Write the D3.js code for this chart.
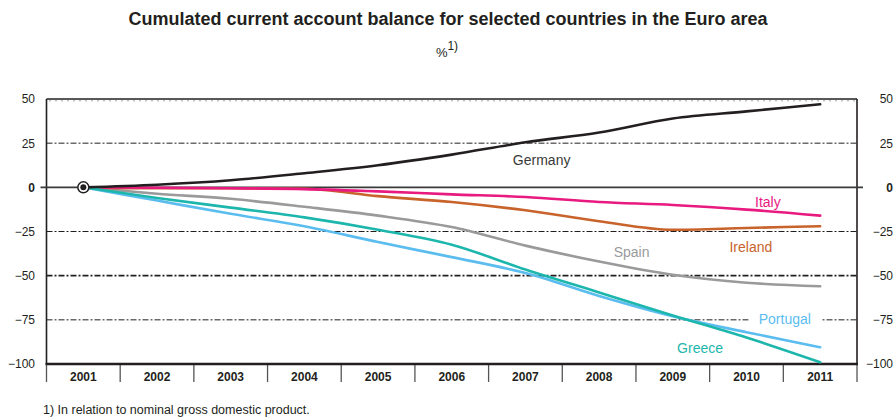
<!DOCTYPE html>
<html>
<head>
<meta charset="utf-8">
<script src="https://cdn.jsdelivr.net/npm/d3@7"></script>
<style>
  body { margin: 0; background: #fff; }
  svg { font-family: "Liberation Sans", Arial, sans-serif; }
</style>
</head>
<body>
<svg id="chart" width="894" height="417"></svg>
<script>
// values
var years = [2001, 2002, 2003, 2004, 2005, 2006, 2007, 2008, 2009, 2010, 2011];
var germany  = [0, 1.5, 4, 8, 12.5, 18.5, 25.5, 31, 39, 43, 47];
var italy    = [0, -0.2, -0.5, -1, -2.3, -4, -5.5, -8.3, -10, -12.6, -16];
var ireland  = [0, -0.5, -0.5, -0.8, -5, -8.3, -13, -19.2, -24, -23, -22];
var spain    = [0, -3.6, -6.5, -11, -16, -22.5, -33, -42, -49.5, -54, -56];
var greece   = [0, -6, -11.5, -17, -24, -32.5, -46.5, -59.5, -72.5, -85, -99];
var portugal = [0, -7.5, -15, -22, -31, -39.5, -48.5, -61.5, -73, -82, -90.5];
var yTicks = [50, 25, 0, -25, -50, -75, -100];

var series = [
  {name: "Spain",    values: spain,    color: "#9a9a9c"},
  {name: "Ireland",  values: ireland,  color: "#c8632c"},
  {name: "Italy",    values: italy,    color: "#e8197f"},
  {name: "Portugal", values: portugal, color: "#5bbdef"},
  {name: "Greece",   values: greece,   color: "#1db6ad"},
  {name: "Germany",  values: germany,  color: "#231f20"}
];
// label anchors, in data units (year, value)
var labels = [
  {name: "Germany",  at: [2007.22, 15.5],  color: "#3a3a3a"},
  {name: "Italy",    at: [2010.29, -8.2],  color: "#e8197f"},
  {name: "Ireland",  at: [2010.06, -33.7], color: "#c8632c"},
  {name: "Spain",    at: [2008.44, -36.6], color: "#9a9a9c"},
  {name: "Portugal", at: [2010.52, -74.7], color: "#5bbdef", knockout: true},
  {name: "Greece",   at: [2009.37, -91.2], color: "#1db6ad"}
];

var svg = d3.select("#chart");
var margin = {top: 99, left: 46.5, right: 37, bottom: 53};
var width = 894, height = 417;
var x0 = margin.left, x1 = width - margin.right;
var yTop = margin.top, yBot = height - margin.bottom;

var xBand = d3.scaleBand().domain(years).range([x0, x1]);
var xScale = d3.scaleLinear()
  .domain([years[0], years[years.length - 1]])
  .range([xBand(years[0]) + xBand.bandwidth() / 2, xBand(years[years.length - 1]) + xBand.bandwidth() / 2]);
var yScale = d3.scaleLinear().domain([-100, 50]).range([yBot, yTop]);

// title
svg.append("text")
  .attr("x", 448).attr("y", 25)
  .attr("text-anchor", "middle")
  .attr("font-size", 18).attr("font-weight", "bold")
  .attr("fill", "#231f20")
  .text("Cumulated current account balance for selected countries in the Euro area");
var unit = svg.append("text")
  .attr("x", 447).attr("y", 57)
  .attr("text-anchor", "middle")
  .attr("font-size", 13).attr("fill", "#231f20");
unit.append("tspan").text("%");
unit.append("tspan").attr("dy", -7).attr("font-size", 12).text("1)");

// gridlines
var grid = svg.append("g");
yTicks.filter(function(d) { return d != 0 && d != 50 && d != -100; }).forEach(function(d) {
  grid.append("line")
    .attr("x1", x0).attr("x2", x1)
    .attr("y1", yScale(d)).attr("y2", yScale(d))
    .attr("stroke", "#231f20")
    .attr("stroke-width", d == -50 ? 1.8 : 1)
    .attr("stroke-dasharray", "6,2,2,2");
});
// top frame line with dotted ticks below it
grid.append("line")
  .attr("x1", x0).attr("x2", x1)
  .attr("y1", yScale(50)).attr("y2", yScale(50))
  .attr("stroke", "#231f20").attr("stroke-width", 1.6);
grid.append("line")
  .attr("x1", x0 + 3).attr("x2", x1)
  .attr("y1", yScale(50) + 1.8).attr("y2", yScale(50) + 1.8)
  .attr("stroke", "#555").attr("stroke-width", 1)
  .attr("stroke-dasharray", "1,5");

// left / right frame
svg.append("line")
  .attr("x1", x0).attr("x2", x0).attr("y1", yTop).attr("y2", yBot)
  .attr("stroke", "#231f20").attr("stroke-width", 1.6);
svg.append("line")
  .attr("x1", x1).attr("x2", x1).attr("y1", yTop).attr("y2", yBot)
  .attr("stroke", "#231f20").attr("stroke-width", 1.6);

// zero line
svg.append("line")
  .attr("x1", x0 - 6).attr("x2", x1 + 6)
  .attr("y1", yScale(0)).attr("y2", yScale(0))
  .attr("stroke", "#3a3a3a").attr("stroke-width", 1.6);

// y labels both sides
var yLeft = d3.axisLeft(yScale).tickValues(yTicks).tickSize(0).tickPadding(0);
svg.append("g")
  .attr("transform", "translate(35,0)")
  .call(yLeft)
  .call(function(g) { g.select(".domain").remove(); })
  .selectAll("text")
    .attr("font-size", 12).attr("font-family", "Liberation Sans, Arial, sans-serif")
    .attr("fill", "#231f20")
    .attr("font-weight", function(d) { return d == 0 ? "bold" : "normal"; });
svg.append("g")
  .attr("transform", "translate(893,0)")
  .call(yLeft)
  .call(function(g) { g.select(".domain").remove(); })
  .selectAll("text")
    .attr("font-size", 12).attr("font-family", "Liberation Sans, Arial, sans-serif")
    .attr("fill", "#231f20")
    .attr("font-weight", function(d) { return d == 0 ? "bold" : "normal"; });

// x axis: category labels with separators
var xAxis = svg.append("g").attr("transform", "translate(0," + yBot + ")");
xAxis.selectAll("line.sep")
  .data(years.concat(["end"]))
  .enter().append("line")
    .attr("class", "sep")
    .attr("x1", function(d) { return d == "end" ? x1 : xBand(d); })
    .attr("x2", function(d) { return d == "end" ? x1 : xBand(d); })
    .attr("y1", 0).attr("y2", 18)
    .attr("stroke", "#555").attr("stroke-width", 1.3);
xAxis.selectAll("text")
  .data(years)
  .enter().append("text")
    .attr("x", function(d) { return xBand(d) + xBand.bandwidth() / 2; })
    .attr("y", 17)
    .attr("text-anchor", "middle")
    .attr("font-size", 12).attr("font-weight", "bold")
    .attr("fill", "#231f20")
    .text(function(d) { return d; });
xAxis.append("line")
  .attr("x1", x0 - 1).attr("x2", x1 + 1)
  .attr("y1", 0).attr("y2", 0)
  .attr("stroke", "#231f20").attr("stroke-width", 2.5);

// lines
var line = d3.line()
  .x(function(d, i) { return xScale(years[i]); })
  .y(function(d) { return yScale(d); })
  .curve(d3.curveMonotoneX);

svg.append("g").selectAll("path")
  .data(series)
  .enter().append("path")
    .attr("fill", "none")
    .attr("stroke", function(d) { return d.color; })
    .attr("stroke-width", 2.6)
    .attr("stroke-linejoin", "round")
    .attr("stroke-linecap", "round")
    .attr("d", function(d) { return line(d.values); });

// origin marker
svg.append("circle")
  .attr("cx", xScale(years[0])).attr("cy", yScale(0)).attr("r", 5.5)
  .attr("fill", "#fff").attr("stroke", "#231f20").attr("stroke-width", 1.5);
svg.append("circle")
  .attr("cx", xScale(years[0])).attr("cy", yScale(0)).attr("r", 3)
  .attr("fill", "#231f20");

// series labels
labels.forEach(function(l) {
  var cx = xScale(l.at[0]), cy = yScale(l.at[1]);
  if (l.knockout) {
    svg.append("rect")
      .attr("x", cx - 36).attr("y", cy - 8)
      .attr("width", 72).attr("height", 16)
      .attr("fill", "#fff");
  }
  svg.append("text")
    .attr("x", cx).attr("y", cy)
    .attr("dy", "0.35em")
    .attr("text-anchor", "middle")
    .attr("font-size", 14)
    .attr("fill", l.color)
    .text(l.name);
});

// footnote
svg.append("text")
  .attr("x", 43).attr("y", 414)
  .attr("font-size", 12.5).attr("fill", "#231f20")
  .text("1) In relation to nominal gross domestic product.");
</script>
</body>
</html>
